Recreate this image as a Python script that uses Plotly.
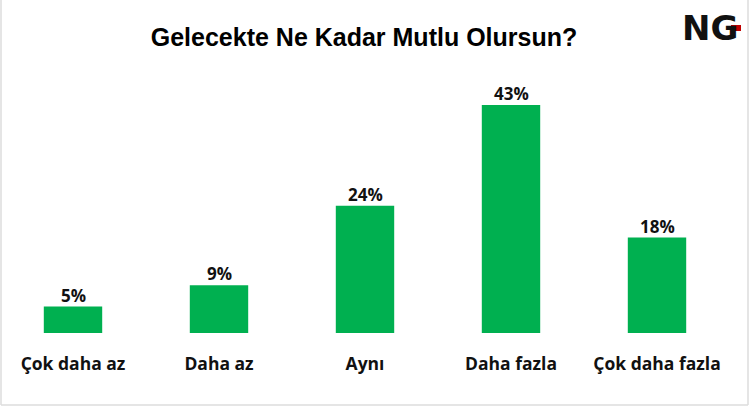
import plotly.graph_objects as go

categories = ["Çok daha az", "Daha az", "Aynı", "Daha fazla", "Çok daha fazla"]
values = [5, 9, 24, 43, 18]
labels = [f"{v}%" for v in values]

W, H = 750, 407
PLOT_W, PLOT_H = 730, 333

fig = go.Figure(go.Bar(
    x=categories, y=values,
    marker=dict(color="#00B050", line=dict(width=0)),
    width=0.4, hoverinfo="skip",
))

def px(x):
    return x / PLOT_W

def py(y):
    return (PLOT_H - y) / PLOT_H

value_annotations = [
    dict(x=c, y=v, text=f"<b>{t}</b>", xref="x", yref="y", showarrow=False,
         xanchor="center", yanchor="bottom", yshift=-2,
         font=dict(family="Open Sans", size=17, color="#111111"))
    for c, v, t in zip(categories, values, labels)
]

fig.update_layout(
    width=W, height=H,
    margin=dict(l=0, r=W - PLOT_W, t=0, b=H - PLOT_H),
    paper_bgcolor="white", plot_bgcolor="white",
    showlegend=False,
    title=dict(text="<b>Gelecekte Ne Kadar Mutlu Olursun?</b>",
               font=dict(family="Liberation Sans", size=25, color="black"),
               x=364 / W, xanchor="center", y=1 - 37 / H, yanchor="middle"),
    xaxis=dict(showline=False, showgrid=False, ticks="", fixedrange=True,
               tickfont=dict(family="Open Sans", size=17.5, color="#111111", weight="bold"),
               ticklabelstandoff=18),
    yaxis=dict(visible=False, range=[0, PLOT_H / 5.3], fixedrange=True),
    shapes=[
        dict(type="line", xref="paper", yref="paper", x0=px(1), x1=px(1), y0=py(0), y1=py(405),
             line=dict(color="#DDDDDD", width=1.5)),
        dict(type="line", xref="paper", yref="paper", x0=px(748), x1=px(748), y0=py(0), y1=py(405),
             line=dict(color="#DDDDDD", width=1.5)),
        dict(type="line", xref="paper", yref="paper", x0=px(1), x1=px(748), y0=py(405), y1=py(405),
             line=dict(color="#DDDDDD", width=1.5)),
        dict(type="rect", xref="paper", yref="paper", x0=px(731), x1=px(741), y0=py(31), y1=py(25),
             line=dict(width=0), fillcolor="#C00000", layer="above"),
    ],
    annotations=value_annotations + [
        dict(text="<b>NG</b>", xref="paper", yref="paper", x=px(710), y=py(28),
             xanchor="center", yanchor="middle", showarrow=False,
             font=dict(family="DejaVu Sans", size=34, color="#111111")),
    ],
)

fig.write_html("out.html", config={"displayModeBar": False},
               post_script="document.body.style.margin='0';")
